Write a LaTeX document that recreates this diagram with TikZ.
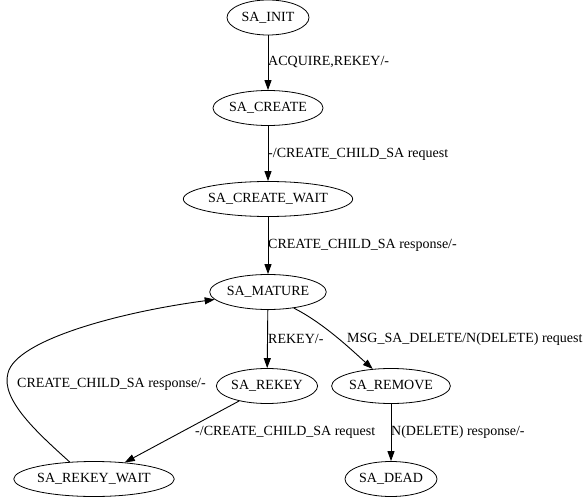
\documentclass[tikz,border=0pt]{standalone}
\usepackage{fontspec}
\setmainfont{Liberation Serif}
\usetikzlibrary{shapes.geometric,arrows.meta}

\tikzset{
  state/.style={draw, ellipse, line width=0.8pt, inner sep=0pt,
                minimum width=#1, minimum height=35pt},
  edge/.style={line width=0.9pt, -{Triangle[length=10pt,width=7pt]}},
  lbl/.style={anchor=west, inner sep=0pt},
}

\begin{document}
\begin{tikzpicture}[x=1pt, y=-1pt, font=\fontsize{14}{16}\selectfont]
\useasboundingbox (0,0) rectangle (586,497);

% states
\node[state=82pt]  (init)       at (268,17.5) {SA\_INIT};
\node[state=109pt] (create)     at (268,108)  {SA\_CREATE};
\node[state=151pt] (createwait) at (268,199)  {SA\_CREATE\_WAIT};
\node[state=112pt] (mature)     at (268,292)  {SA\_MATURE};
\node[state=98pt]  (rekey)      at (267,386)  {SA\_REKEY};
\node[state=115pt] (remove)     at (391,386)  {SA\_REMOVE};
\node[state=92pt]  (dead)       at (391,479)  {SA\_DEAD};
\node[state=144pt] (rekeywait)  at (94,479)   {SA\_REKEY\_WAIT};

% transitions
\draw[edge] (init) -- (create);
\draw[edge] (create) -- (createwait);
\draw[edge] (createwait) -- (mature);
\draw[edge] (mature) -- (rekey);
\draw[edge] (mature.-32) .. controls +(30,15) and +(-20,-18) .. (remove.137);
\draw[edge] (remove) -- (dead);
\draw[edge] (rekey) -- (rekeywait);
\draw[edge] (rekeywait.145) .. controls (40,435) and (0,400) .. (8,373)
                            .. controls (16,340) and (120,312) .. (mature.188);

% transition labels
\node[lbl] (l1) at (268,62)  {ACQUIRE,REKEY/-};
\node[lbl] (l2) at (268,154) {-/CREATE\_CHILD\_SA request};
\node[lbl] (l3) at (268,245) {CREATE\_CHILD\_SA response/-};
\node[lbl] (l4) at (268,339) {REKEY/-};
\node[lbl] (l5) at (347,339) {MSG\_SA\_DELETE/N(DELETE) request};
\node[lbl] (l6) at (17,384)  {CREATE\_CHILD\_SA response/-};
\node[lbl] (l7) at (195,432) {-/CREATE\_CHILD\_SA request};
\node[lbl] (l8) at (391,432) {N(DELETE) response/-};
\end{tikzpicture}
\end{document}
